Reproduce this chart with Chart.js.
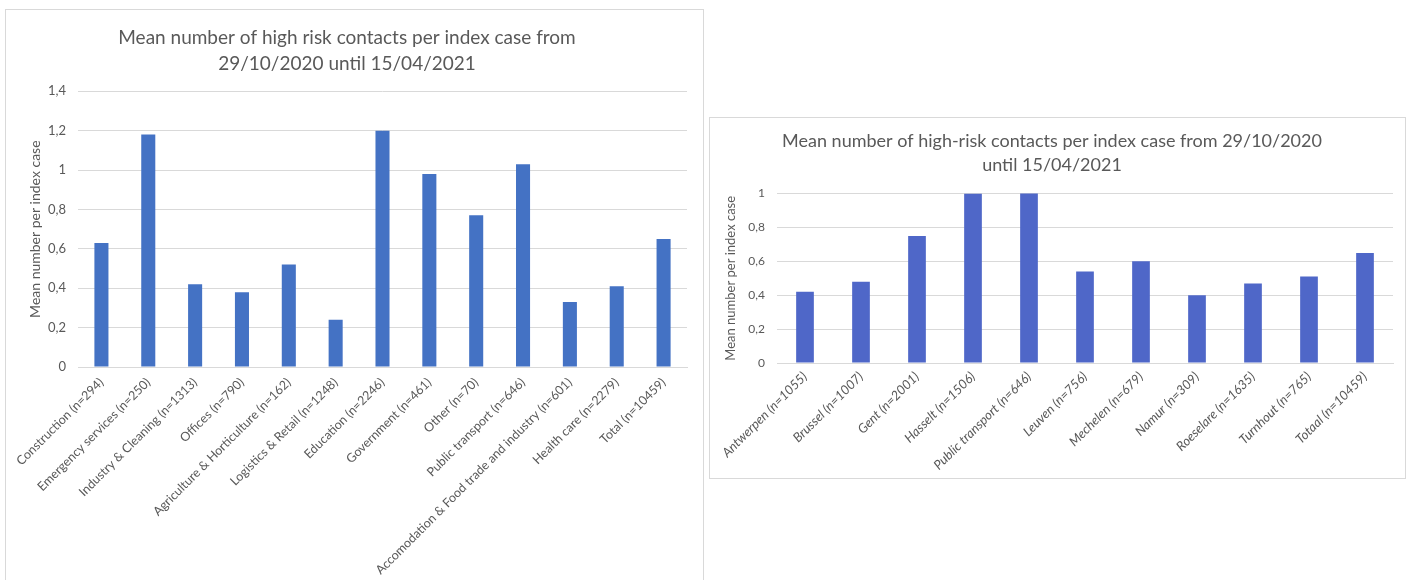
<!DOCTYPE html>
<html>
<head>
<meta charset="utf-8">
<script src="https://cdn.jsdelivr.net/npm/chart.js@4/dist/chart.umd.min.js"></script>
<style>
  html, body { margin: 0; padding: 0; background: #fff; overflow: hidden; }
  body { width: 1411px; height: 580px; position: relative; }
  .panel { position: absolute; border: 1px solid #d9d9d9; background: #fff; box-sizing: border-box; }
  #p1 { left: 5px; top: 9px; width: 699px; height: 590px; }
  #p2 { left: 709px; top: 117px; width: 697px; height: 362px; }
  canvas { position: absolute; }
  #c1 { left: 1px; top: 1px; }
  #c2 { left: 1px; top: 1px; }
</style>
</head>
<body>
<div class="panel" id="p1"><canvas id="c1" width="697" height="570"></canvas></div>
<div class="panel" id="p2"><canvas id="c2" width="694" height="359"></canvas></div>
<script>
// Sectors
const sectorLabels = [
  'Construction (n=294)', 'Emergency services (n=250)', 'Industry & Cleaning (n=1313)',
  'Offices (n=790)', 'Agriculture & Horticulture (n=162)', 'Logistics & Retail (n=1248)',
  'Education (n=2246)', 'Government (n=461)', 'Other (n=70)', 'Public transport (n=646)',
  'Accomodation & Food trade and industry (n=601)', 'Health care (n=2279)', 'Total (n=10459)'
];
const sectorMeans = [0.63, 1.18, 0.42, 0.38, 0.52, 0.24, 1.20, 0.98, 0.77, 1.03, 0.33, 0.41, 0.65];
const sectorTitle = ['Mean number of high risk contacts per index case from', '29/10/2020 until 15/04/2021'];

// Regions
const regionLabels = [
  'Antwerpen (n=1055)', 'Brussel (n=1007)', 'Gent (n=2001)', 'Hasselt (n=1506)',
  'Public transport (n=646)', 'Leuven (n=756)', 'Mechelen (n=679)', 'Namur (n=309)',
  'Roeselare (n=1635)', 'Turnhout (n=765)', 'Totaal (n=10459)'
];
const regionMeans = [0.42, 0.48, 0.75, 1.00, 1.03, 0.54, 0.60, 0.40, 0.47, 0.51, 0.65];
const regionTitle = ['Mean number of high-risk contacts per index case from 29/10/2020', 'until 15/04/2021'];

const yTitle = 'Mean number per index case';

const FONT = 'Lato, "Open Sans", sans-serif';
const GREY = '#595959';
const GRID = '#d9d9d9';

function commaTick(v) { return String(Math.round(v * 10) / 10).replace('.', ','); }

function makeChart(id, cfg) {
  return new Chart(document.getElementById(id), {
    type: 'bar',
    data: {
      labels: cfg.labels,
      datasets: [{
        data: cfg.values,
        backgroundColor: cfg.color,
        borderWidth: 0,
        categoryPercentage: 1,
        barPercentage: cfg.barPct
      }]
    },
    options: {
      responsive: false,
      animation: false,
      events: [],
      layout: { padding: { left: 0, right: cfg.padRight, top: 0, bottom: 0 } },
      plugins: {
        legend: { display: false },
        tooltip: { enabled: false },
        title: {
          display: true,
          text: cfg.title,
          color: GREY,
          font: { family: FONT, size: cfg.titleSize, weight: 'normal', lineHeight: 1.35 },
          padding: { top: cfg.titleTop, bottom: cfg.titleBottom }
        }
      },
      scales: {
        x: {
          grid: { display: false, drawTicks: false },
          border: { color: GRID, width: 1 },
          ticks: {
            color: GREY,
            autoSkip: false,
            minRotation: 45,
            maxRotation: 45,
            padding: cfg.xPad,
            font: { family: FONT, size: cfg.xSize, style: cfg.xStyle }
          },
          // fixed axis band; rotated labels may overhang the plot sideways
          afterFit: s => { s.height = cfg.xHeight; s.paddingLeft = 0; s.paddingRight = 0; }
        },
        y: {
          min: 0,
          max: cfg.max,
          grid: { color: GRID, drawTicks: false },
          border: { display: false },
          ticks: {
            stepSize: 0.2,
            color: GREY,
            padding: cfg.yPad,
            font: { family: FONT, size: cfg.ySize },
            callback: v => commaTick(v)
          },
          title: {
            display: true,
            text: yTitle,
            color: GREY,
            padding: { top: cfg.yTitleOffset, bottom: 0 },
            font: { family: FONT, size: cfg.yTitleSize }
          },
          afterFit: s => { s.width = cfg.yWidth; }
        }
      }
    }
  });
}

makeChart('c1', {
  labels: sectorLabels, values: sectorMeans, title: sectorTitle,
  color: '#4472c4', barPct: 0.3, max: 1.4, padRight: 17,
  titleSize: 19, titleTop: 14, titleBottom: 15,
  xSize: 12.5, xStyle: 'normal', xPad: 8, xHeight: 214,
  ySize: 13, yPad: 12, yTitleSize: 14, yTitleOffset: 20, yWidth: 71
});

makeChart('c2', {
  labels: regionLabels, values: regionMeans, title: regionTitle,
  color: '#4f67c8', barPct: 0.316, max: 1, padRight: 12,
  titleSize: 18, titleTop: 10, titleBottom: 16,
  xSize: 13, xStyle: 'italic', xPad: 6, xHeight: 115,
  ySize: 12, yPad: 12, yTitleSize: 13, yTitleOffset: 12, yWidth: 66
});
</script>
</body>
</html>
